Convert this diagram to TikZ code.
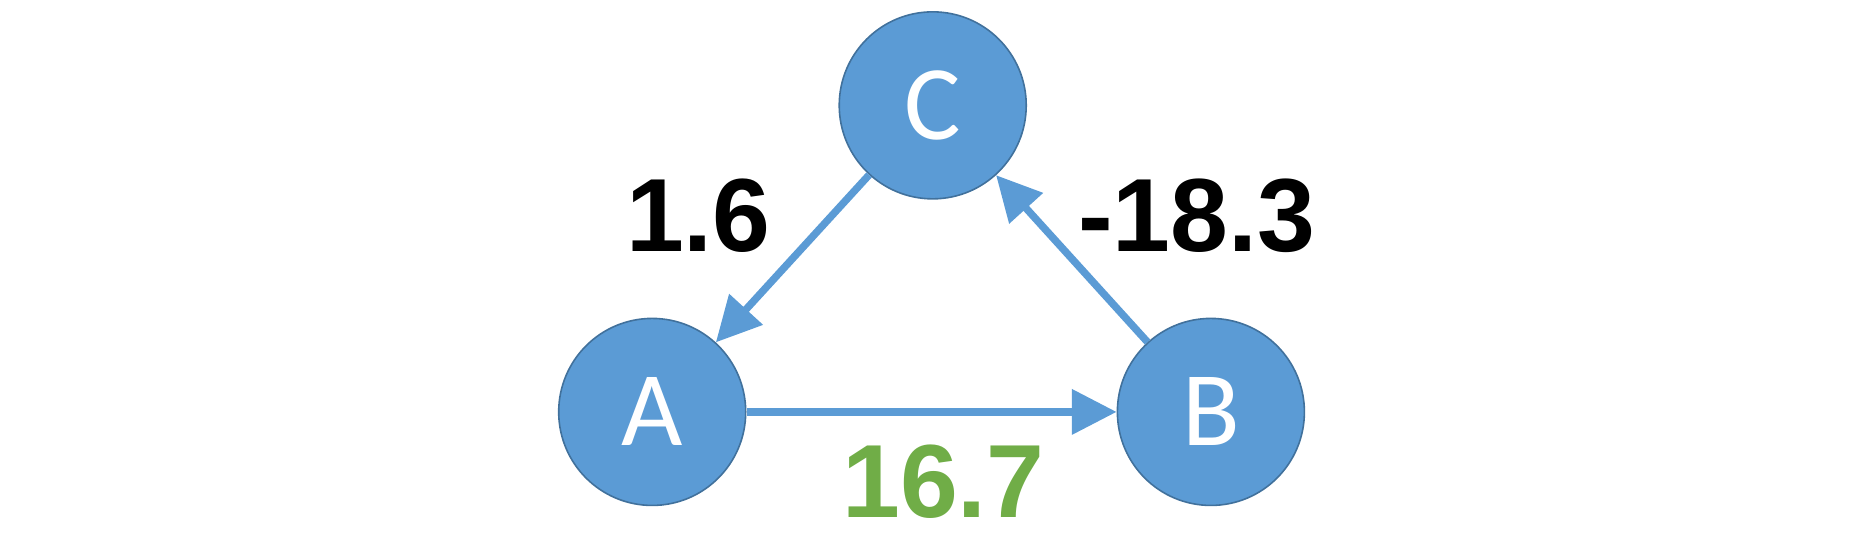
\documentclass[tikz,border=0pt]{standalone}
\usepackage{fontspec}
\setmainfont{Liberation Sans}
\newfontfamily\nodefont{Carlito}
\usetikzlibrary{arrows.meta}
\definecolor{nodeblue}{HTML}{5B9BD5}
\definecolor{nodeedge}{HTML}{41719C}
\definecolor{labgreen}{HTML}{70AD47}
\tikzset{
  vert/.style={circle, fill=nodeblue, draw=nodeedge, line width=0.4pt, minimum size=46.75pt, inner sep=0pt, text=white, font=\nodefont\fontsize{26.5}{28}\selectfont},
  conn/.style={draw=nodeblue, line width=1.85pt, -{Triangle[length=11.2pt,width=11pt]}},
  wlabel/.style={font=\bfseries\fontsize{26}{28}\selectfont, inner sep=0pt}
}
\begin{document}
\begin{tikzpicture}[x=0.2959pt,y=0.2959pt]
\useasboundingbox (0,0) rectangle (1568,459.6);
\node[vert] (C) at (788,370.6) {C};
\node[vert] (A) at (551,111.6) {A};
\node[vert] (B) at (1023,111.6) {B};
\draw[conn] (C) -- (A);
\draw[conn] (B) -- (C);
\draw[conn] (A) -- (B);
\node[wlabel] (l1) at (590,277.6) {1.6};
\node[wlabel] (l2) at (1011,277.6) {-18.3};
\node[wlabel, text=labgreen] (l3) at (797,52.6) {16.7};
\end{tikzpicture}
\end{document}
